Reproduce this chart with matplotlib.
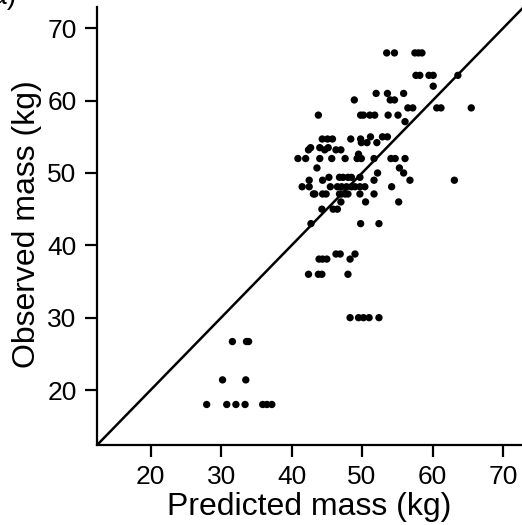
import matplotlib.pyplot as plt

plt.rcParams["font.family"] = ["Liberation Sans", "DejaVu Sans"]

# observed mass levels (kg) and the predicted masses of the points on each level
OBSERVED_LEVELS = [
    66.6, 63.5, 62.0, 61.0, 60.1, 59.0, 58.0, 57.1, 55.0, 54.7, 54.2,
    53.5, 53.2, 52.6, 52.0, 50.7, 50.0, 49.4, 49.0, 48.1, 47.1, 46.0,
    45.0, 43.0, 38.8, 38.1, 36.0, 30.0, 26.7, 21.4, 18.0,
]
PREDICTED_BY_LEVEL = [
    [53.5, 54.6, 57.5, 58.0, 58.5],
    [57.65, 58.2, 59.5, 60.1, 63.6],
    [60.1],
    [52.0, 53.6, 55.9],
    [48.9, 54.0, 54.6],
    [56.5, 57.2, 60.6, 61.2, 65.5],
    [43.8, 49.8, 50.2, 51.1, 51.8, 53.7, 55.1],
    [56.1],
    [51.2, 52.9, 53.6],
    [44.35, 45.1, 45.8, 48.4, 49.8],
    [49.9, 50.7, 52.1],
    [42.7, 44.0, 45.2],
    [42.4, 44.7, 46.3, 47.0],
    [49.5],
    [40.9, 42.0, 44.0, 45.7, 47.6, 49.3, 49.9, 51.7, 54.1, 54.7, 56.1],
    [43.6, 55.3],
    [52.2, 55.9],
    [45.3, 46.8, 47.3, 48.0, 48.5, 49.7],
    [42.5, 44.4, 51.7, 56.8, 63.1],
    [41.5, 42.5, 45.5, 46.5, 47.1, 47.8, 48.5, 49.0, 49.7, 50.4, 54.2],
    [43.1, 43.3, 44.4, 44.9, 46.8, 47.1, 47.6, 48.0, 49.7, 51.7],
    [47.0, 50.5, 55.2],
    [44.3, 45.9, 46.5],
    [42.75, 49.8, 52.4],
    [46.3, 46.9, 49.0],
    [43.9, 44.4, 45.0, 48.3],
    [42.4, 43.8, 44.3, 48.0],
    [48.3, 49.5, 50.2, 51.0, 52.4],
    [31.6, 33.6, 33.9],
    [30.2, 33.5],
    [27.95, 30.8, 32.1, 33.4, 35.9, 36.5, 37.2],
]
TICKS = [20, 30, 40, 50, 60, 70]


def flatten_points(levels, predicted_by_level):
    predicted = []
    observed = []
    for level, row in zip(levels, predicted_by_level):
        predicted.extend(row)
        observed.extend([level] * len(row))
    return predicted, observed


def main():
    predicted, observed = flatten_points(OBSERVED_LEVELS, PREDICTED_BY_LEVEL)

    figure = plt.figure(figsize=(5.22, 5.25), dpi=100)
    axis = figure.add_axes([0.1852, 0.1524, 0.8148, 0.8343])

    axis.scatter(predicted, observed, s=28, color="black", edgecolors="none", zorder=3)
    axis.axline((20, 20), (70, 70), color="black", linewidth=1.8, zorder=2)

    axis.set_xlim(12.34, 72.7)
    axis.set_ylim(12.40, 72.95)
    axis.set_xticks(TICKS)
    axis.set_yticks(TICKS)

    for side in ("top", "right"):
        axis.spines[side].set_visible(False)
    for side in ("left", "bottom"):
        axis.spines[side].set_linewidth(1.6)

    axis.tick_params(direction="out", length=8.5, width=1.6, labelsize=19, pad=6)
    axis.set_xlabel("Predicted mass (kg)", fontsize=23)
    axis.set_ylabel("Observed mass (kg)", fontsize=23)
    axis.xaxis.set_label_coords(0.5, -0.108)
    axis.yaxis.set_label_coords(-0.128, 0.505)

    # panel label cropped at the top left corner
    figure.text(16 / 522, 1 - 4.5 / 525, "(a)", fontsize=20, ha="right", va="baseline")

    figure.savefig("out.png", dpi=100)
    plt.close(figure)


if __name__ == "__main__":
    main()
